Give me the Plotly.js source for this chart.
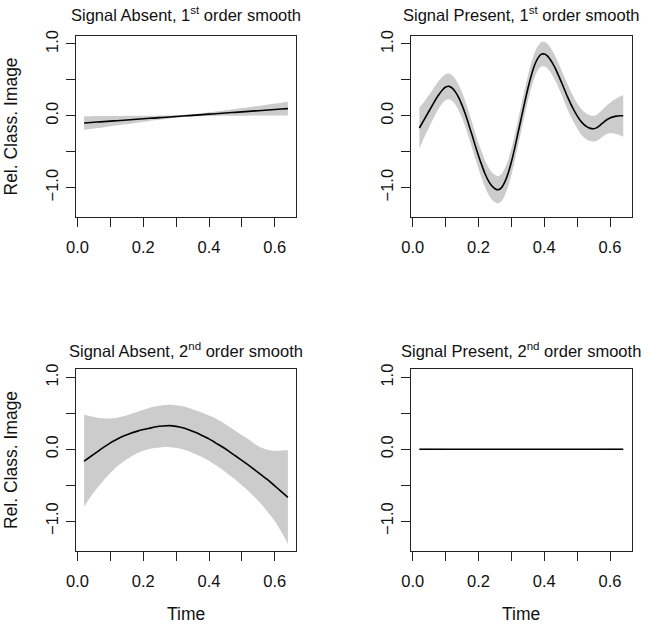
<!DOCTYPE html>
<html>
<head>
<meta charset="utf-8">
<script src="https://cdn.plot.ly/plotly-3.0.1.min.js"></script>
<style>html,body{margin:0;padding:0;background:#fff;}#chart{width:649px;height:626px;}</style>
</head>
<body>
<div id="chart"></div>
<script>
// ---------- data ----------
var panelTitles = [
  "Signal Absent, 1<sup>st</sup> order smooth",
  "Signal Present, 1<sup>st</sup> order smooth",
  "Signal Absent, 2<sup>nd</sup> order smooth",
  "Signal Present, 2<sup>nd</sup> order smooth"
];
var yTitle = "Rel. Class. Image";
var xTitle = "Time";

// tick spacing (labelled major ticks, unlabelled minor ticks)
var xMajorStep = 0.2, xMinorStep = 0.1;
var yMajorStep = 1.0, yMinorStep = 0.5;

// coarse time grid (s)
var timeCoarse = [0.02,0.04,0.06,0.08,0.10,0.12,0.14,0.16,0.18,0.20,0.22,0.24,0.26,0.28,0.30,0.32,
                  0.34,0.36,0.38,0.40,0.42,0.44,0.46,0.48,0.50,0.52,0.54,0.56,0.58,0.60,0.62,0.64];
// fine time grid (s)
var timeFine = [0.02,0.03,0.04,0.05,0.06,0.07,0.08,0.09,0.10,0.11,0.12,0.13,0.14,0.15,0.16,0.17,0.18,0.19,
                0.20,0.21,0.22,0.23,0.24,0.25,0.26,0.27,0.28,0.29,0.30,0.31,0.32,0.33,0.34,0.35,0.36,0.37,
                0.38,0.39,0.40,0.41,0.42,0.43,0.44,0.45,0.46,0.47,0.48,0.49,0.50,0.51,0.52,0.53,0.54,0.55,
                0.56,0.57,0.58,0.59,0.60,0.61,0.62,0.63,0.64];

// Panel 1: Signal Absent, 1st order
var absent1Fit = [-0.100,-0.094,-0.087,-0.081,-0.074,-0.068,-0.061,-0.055,-0.048,-0.042,-0.035,-0.029,-0.023,-0.016,-0.010,-0.003,
                  0.003,0.010,0.016,0.023,0.029,0.035,0.042,0.048,0.055,0.061,0.068,0.074,0.081,0.087,0.094,0.100];
var absent1Lo  = [-0.195,-0.183,-0.170,-0.158,-0.145,-0.133,-0.120,-0.109,-0.096,-0.084,-0.071,-0.060,-0.049,-0.037,-0.028,-0.018,
                  -0.012,-0.008,-0.005,-0.003,-0.002,-0.001,0.000,0.000,0.001,0.002,0.003,0.003,0.004,0.004,0.005,0.005];
var absent1Hi  = [-0.005,-0.005,-0.004,-0.004,-0.003,-0.003,-0.002,-0.001,0.000,0.000,0.001,0.002,0.003,0.005,0.008,0.012,
                  0.018,0.028,0.037,0.049,0.060,0.071,0.084,0.096,0.109,0.120,0.133,0.145,0.158,0.170,0.183,0.195];

// Panel 2: Signal Present, 1st order
var present1Fit = [-0.17,-0.09,-0.01,0.07,0.15,0.23,0.30,0.36,0.40,0.41,0.385,0.33,0.25,0.145,0.02,-0.12,-0.265,-0.415,
                   -0.56,-0.69,-0.81,-0.905,-0.975,-1.015,-1.03,-1.00,-0.92,-0.80,-0.64,-0.45,-0.24,-0.03,0.18,0.38,0.555,0.70,
                   0.80,0.855,0.86,0.83,0.77,0.69,0.595,0.49,0.38,0.27,0.17,0.08,0.00,-0.07,-0.12,-0.155,-0.175,-0.18,
                   -0.165,-0.13,-0.09,-0.055,-0.03,-0.015,-0.005,0.00,0.00];
var present1Lo  = [-0.455,-0.35,-0.25,-0.155,-0.06,0.03,0.11,0.175,0.22,0.23,0.205,0.15,0.07,-0.035,-0.16,-0.30,-0.445,-0.595,
                   -0.74,-0.875,-0.995,-1.095,-1.165,-1.205,-1.22,-1.19,-1.11,-0.985,-0.825,-0.63,-0.42,-0.21,0.00,0.205,0.38,0.53,
                   0.63,0.685,0.69,0.66,0.60,0.52,0.425,0.32,0.21,0.095,-0.005,-0.095,-0.175,-0.25,-0.30,-0.335,-0.355,-0.36,
                   -0.345,-0.315,-0.28,-0.255,-0.24,-0.245,-0.255,-0.27,-0.29];
var present1Hi  = [0.115,0.17,0.23,0.295,0.36,0.43,0.49,0.545,0.58,0.59,0.565,0.51,0.43,0.325,0.20,0.06,-0.085,-0.235,
                   -0.38,-0.505,-0.625,-0.715,-0.785,-0.825,-0.84,-0.81,-0.73,-0.615,-0.455,-0.27,-0.06,0.15,0.36,0.555,0.73,0.87,
                   0.97,1.025,1.03,1.00,0.94,0.86,0.765,0.66,0.55,0.445,0.345,0.255,0.175,0.11,0.06,0.025,0.005,0.00,
                   0.015,0.055,0.10,0.145,0.18,0.215,0.245,0.27,0.29];

// Panel 3: Signal Absent, 2nd order
var absent2Fit = [-0.165,-0.10,-0.035,0.03,0.09,0.14,0.185,0.22,0.25,0.275,0.295,0.315,0.325,0.33,0.32,0.30,
                  0.27,0.235,0.19,0.145,0.09,0.035,-0.025,-0.09,-0.155,-0.22,-0.29,-0.36,-0.43,-0.51,-0.59,-0.67];
var absent2Lo  = [-0.80,-0.66,-0.54,-0.43,-0.33,-0.24,-0.17,-0.11,-0.06,-0.02,0.005,0.02,0.03,0.03,0.02,0.00,
                  -0.03,-0.07,-0.11,-0.16,-0.22,-0.28,-0.35,-0.42,-0.50,-0.58,-0.67,-0.77,-0.88,-1.00,-1.15,-1.32];
var absent2Hi  = [0.48,0.46,0.44,0.43,0.43,0.44,0.46,0.49,0.52,0.55,0.58,0.60,0.615,0.62,0.615,0.60,
                  0.575,0.54,0.51,0.47,0.43,0.38,0.32,0.26,0.20,0.14,0.07,0.02,-0.01,-0.02,-0.015,-0.01];

// Panel 4: Signal Present, 2nd order
var present2Fit = [0.0,0.0,0.0,0.0,0.0,0.0,0.0,0.0,0.0,0.0,0.0,0.0,0.0,0.0,0.0,0.0,
                   0.0,0.0,0.0,0.0,0.0,0.0,0.0,0.0,0.0,0.0,0.0,0.0,0.0,0.0,0.0,0.0];
var present2Lo  = [-0.012,-0.010,-0.008,-0.007,-0.006,-0.005,-0.004,-0.004,-0.003,-0.003,-0.003,-0.003,-0.003,-0.003,-0.003,-0.003,
                   -0.003,-0.003,-0.003,-0.003,-0.003,-0.003,-0.003,-0.003,-0.004,-0.004,-0.005,-0.006,-0.007,-0.008,-0.010,-0.012];
var present2Hi  = [0.012,0.010,0.008,0.007,0.006,0.005,0.004,0.004,0.003,0.003,0.003,0.003,0.003,0.003,0.003,0.003,
                   0.003,0.003,0.003,0.003,0.003,0.003,0.003,0.003,0.004,0.004,0.005,0.006,0.007,0.008,0.010,0.012];

// ---------- build figure ----------
var FONT = "Liberation Sans, Arial, Helvetica, sans-serif";
var panels = [
  {t: timeCoarse, fit: absent1Fit,  lo: absent1Lo,  hi: absent1Hi,  xa: "x",  ya: "y"},
  {t: timeFine,   fit: present1Fit, lo: present1Lo, hi: present1Hi, xa: "x2", ya: "y2"},
  {t: timeCoarse, fit: absent2Fit,  lo: absent2Lo,  hi: absent2Hi,  xa: "x3", ya: "y3"},
  {t: timeCoarse, fit: present2Fit, lo: present2Lo, hi: present2Hi, xa: "x4", ya: "y4"}
];

var traces = [];
panels.forEach(function (p) {
  traces.push({x: p.t, y: p.hi, xaxis: p.xa, yaxis: p.ya, mode: "lines",
               line: {width: 0, shape: "spline", smoothing: 0.6, color: "#cccccc"}, hoverinfo: "skip", showlegend: false});
  traces.push({x: p.t, y: p.lo, xaxis: p.xa, yaxis: p.ya, mode: "lines", fill: "tonexty", fillcolor: "#cccccc",
               line: {width: 0, shape: "spline", smoothing: 0.6, color: "#cccccc"}, hoverinfo: "skip", showlegend: false});
  traces.push({x: p.t, y: p.fit, xaxis: p.xa, yaxis: p.ya, mode: "lines",
               line: {width: 1.6, shape: "spline", smoothing: 0.6, color: "#000000"}, showlegend: false});
});

var W = 649, H = 626;
var colPx = [[75.7, 296.3], [411.0, 631.6]];
var rowPx = [[35.7, 217.3], [369.3, 550.7]];
var titleGap = [22.0, 19.5];
function xdom(c) { return [colPx[c][0] / W, colPx[c][1] / W]; }
function ydom(r) { return [1 - rowPx[r][1] / H, 1 - rowPx[r][0] / H]; }

function xAxis(c, anchor) {
  return {domain: xdom(c), anchor: anchor, range: [-0.0055, 0.6655],
          showline: true, mirror: true, linecolor: "#222", linewidth: 1,
          ticks: "outside", ticklen: 9, tickwidth: 1, tickcolor: "#222",
          tickmode: "linear", tick0: 0, dtick: xMajorStep, tickformat: ".1f",
          minor: {dtick: xMinorStep, tick0: 0, ticks: "outside", ticklen: 9, tickwidth: 1, tickcolor: "#222", showgrid: false},
          showgrid: false, zeroline: false, ticklabelstandoff: 6,
          tickfont: {family: FONT, size: 16.5, color: "#111"}};
}
function yAxis(r, anchor) {
  return {domain: ydom(r), anchor: anchor, range: [-1.413, 1.115],
          showline: true, mirror: true, linecolor: "#222", linewidth: 1,
          ticks: "outside", ticklen: 9, tickwidth: 1, tickcolor: "#222",
          tickmode: "linear", tick0: -1, dtick: yMajorStep, tickformat: ".1f", tickangle: -90,
          minor: {dtick: yMinorStep, tick0: -1, ticks: "outside", ticklen: 9, tickwidth: 1, tickcolor: "#222", showgrid: false},
          showgrid: false, zeroline: false, ticklabelstandoff: 1,
          tickfont: {family: FONT, size: 16.5, color: "#111"}};
}

var annotations = [];
var titlePos = [[0, 0], [1, 0], [0, 1], [1, 1]];
titlePos.forEach(function (cr, i) {
  var c = cr[0], r = cr[1];
  var cx = (colPx[c][0] + colPx[c][1]) / 2 / W;
  annotations.push({text: panelTitles[i], xref: "paper", yref: "paper", x: cx,
                    y: 1 - (rowPx[r][0] - titleGap[r]) / H, xanchor: "center", yanchor: "middle", showarrow: false,
                    font: {family: FONT, size: 16.5, color: "#111"}});
});
[0, 1].forEach(function (r) {
  annotations.push({text: yTitle, xref: "paper", yref: "paper", x: 11 / W,
                    y: 1 - (rowPx[r][0] + rowPx[r][1]) / 2 / H, xanchor: "center", yanchor: "middle",
                    textangle: -90, showarrow: false, font: {family: FONT, size: 17.5, color: "#111"}});
});
[0, 1].forEach(function (c) {
  annotations.push({text: xTitle, xref: "paper", yref: "paper", x: (colPx[c][0] + colPx[c][1]) / 2 / W,
                    y: 1 - 614 / H, xanchor: "center", yanchor: "middle", showarrow: false,
                    font: {family: FONT, size: 17.5, color: "#111"}});
});

var layout = {
  width: W, height: H, margin: {l: 0, r: 0, t: 0, b: 0},
  paper_bgcolor: "#ffffff", plot_bgcolor: "#ffffff", showlegend: false,
  xaxis: xAxis(0, "y"), yaxis: yAxis(0, "x"),
  xaxis2: xAxis(1, "y2"), yaxis2: yAxis(0, "x2"),
  xaxis3: xAxis(0, "y3"), yaxis3: yAxis(1, "x3"),
  xaxis4: xAxis(1, "y4"), yaxis4: yAxis(1, "x4"),
  annotations: annotations
};

Plotly.newPlot("chart", traces, layout, {staticPlot: true, displayModeBar: false}).then(function (gd) {
  // drop empty placeholder text nodes (unused axis titles)
  var texts = gd.querySelectorAll("text");
  for (var i = 0; i < texts.length; i++) {
    if (!texts[i].textContent || !texts[i].textContent.trim()) {
      texts[i].parentNode.removeChild(texts[i]);
    }
  }
});
</script>
</body>
</html>
